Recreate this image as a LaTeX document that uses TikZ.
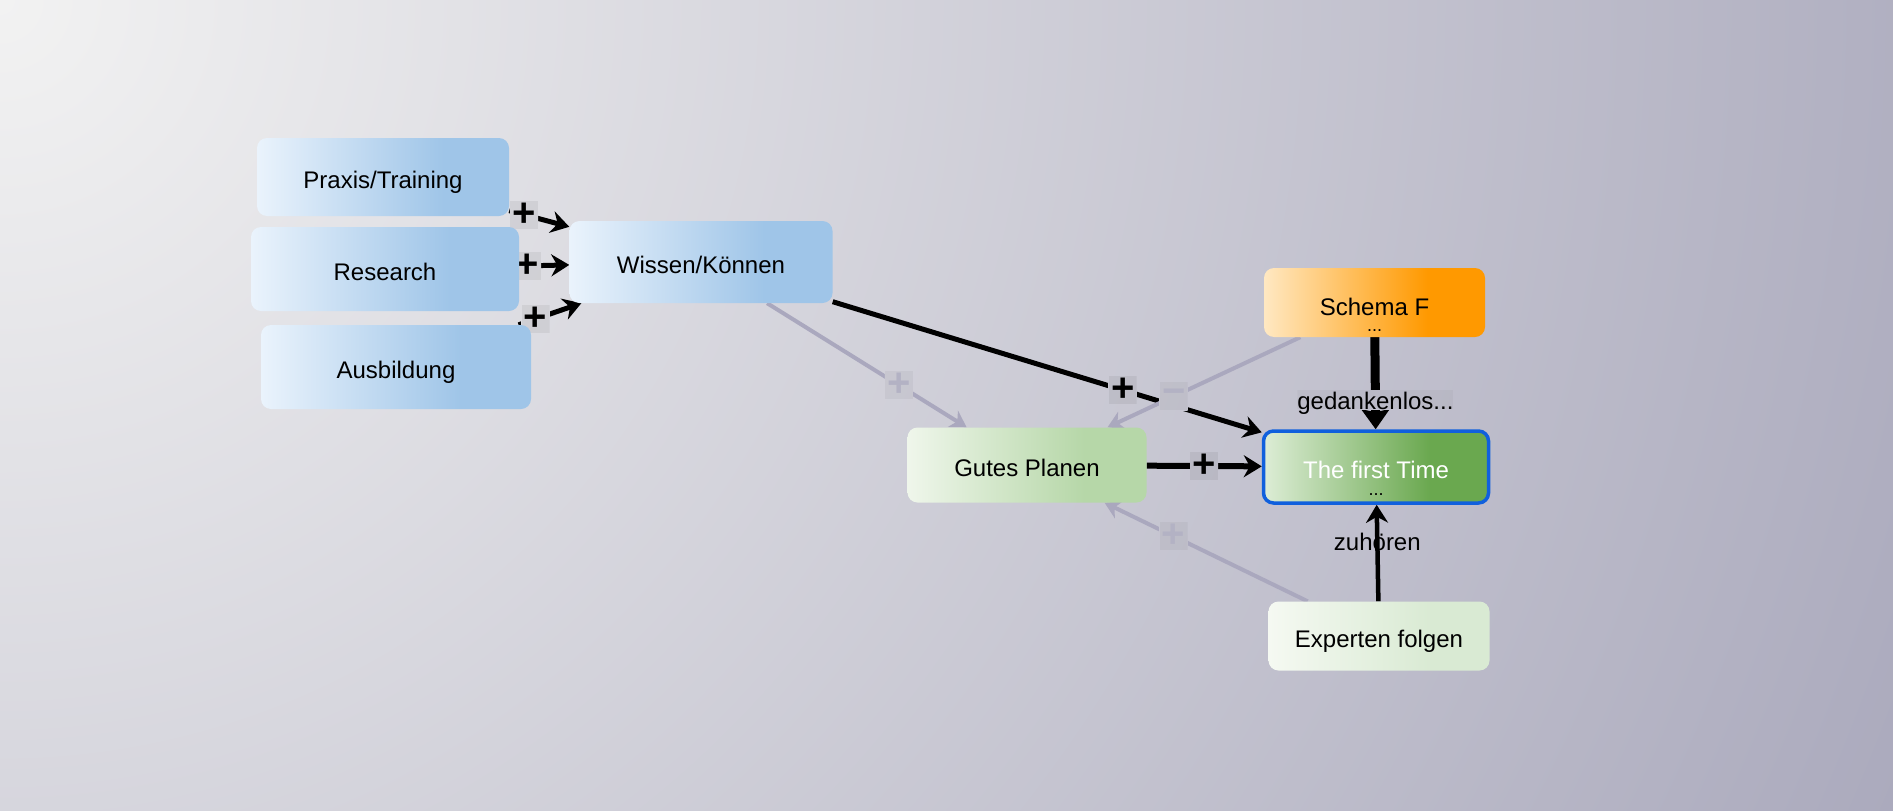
\documentclass[tikz,border=0pt]{standalone}
\usepackage{fontspec}
\setmainfont{Liberation Sans}
\usetikzlibrary{arrows.meta}
\definecolor{bgA}{HTML}{F2F2F2}
\definecolor{bgB}{HTML}{ABAABD}
\definecolor{blueL}{HTML}{EAF3FC}
\definecolor{blueD}{HTML}{9FC5E8}
\definecolor{gpL}{HTML}{EFF6EB}
\definecolor{gpD}{HTML}{B6D7A8}
\definecolor{ftL}{HTML}{DDEDD6}
\definecolor{ftD}{HTML}{6AA84F}
\definecolor{sfL}{HTML}{FFE8C2}
\definecolor{sfD}{HTML}{FF9900}
\definecolor{exL}{HTML}{F5F9F2}
\definecolor{exD}{HTML}{D9EAD3}
\definecolor{ftBorder}{HTML}{1060DD}
\definecolor{greyedge}{HTML}{AAA8BE}
\definecolor{greyplus}{HTML}{B3B2C4}
\pgfdeclarehorizontalshading{blueshade}{100bp}{color(0bp)=(blueL); color(25bp)=(blueL); color(62bp)=(blueD); color(100bp)=(blueD)}
\pgfdeclarehorizontalshading{gpshade}{100bp}{color(0bp)=(gpL); color(25bp)=(gpL); color(62bp)=(gpD); color(100bp)=(gpD)}
\pgfdeclarehorizontalshading{ftshade}{100bp}{color(0bp)=(ftL); color(25bp)=(ftL); color(62bp)=(ftD); color(100bp)=(ftD)}
\pgfdeclarehorizontalshading{sfshade}{100bp}{color(0bp)=(sfL); color(25bp)=(sfL); color(62bp)=(sfD); color(100bp)=(sfD)}
\pgfdeclarehorizontalshading{exshade}{100bp}{color(0bp)=(exL); color(25bp)=(exL); color(62bp)=(exD); color(100bp)=(exD)}
\pgfdeclarelayer{bglayer}
\pgfdeclarelayer{edgelayer}
\pgfsetlayers{bglayer,edgelayer,main}
\begin{document}
\begin{tikzpicture}[x=1pt,y=-1pt,
  font=\fontsize{24}{28}\selectfont,
  box/.style={rounded corners=10pt, inner sep=0pt, text=black, text height=23pt, text depth=0pt},
  dotsty/.style={font=\fontsize{18}{18}\selectfont, inner sep=0pt},
  ebk/.style={draw=black, line width=5pt, -{Stealth[length=18pt,width=22pt,inset=6pt]}},
  egr/.style={draw=greyedge, line width=4pt, -{Stealth[length=16pt,width=19pt,inset=5pt]}},
  bgpic/.style={path picture={\shade[inner color=bgA,outer color=bgB] (origin) circle (2060pt);
      \fill[black,opacity=#1] (path picture bounding box.south west) rectangle (path picture bounding box.north east);}},
  sgn/.style={minimum size=28pt, inner sep=0pt, bgpic=0.06, font=\fontsize{40}{40}\selectfont\bfseries, text=black},
  sgngr/.style={sgn, bgpic=0.04, text=greyplus},
  elab/.style={inner sep=1pt, font=\fontsize{24}{28}\selectfont, text=black}
]
\coordinate (origin) at (0,0);
\useasboundingbox (0,0) rectangle (1893,811);
\begin{pgfonlayer}{bglayer}
\begin{scope}
  \clip (0,0) rectangle (1893,811);
  \shade[inner color=bgA,outer color=bgB] (origin) circle (2060pt);
\end{scope}
\end{pgfonlayer}

% nodes
\node[box, shading=blueshade, minimum width=252pt, minimum height=78pt] (praxis) at (383,177) {Praxis/Training};
\node[box, shading=blueshade, minimum width=268pt, minimum height=84pt] (research) at (385,269) {Research};
\node[box, shading=blueshade, minimum width=270pt, minimum height=84pt] (ausbildung) at (396,367) {Ausbildung};
\node[box, shading=blueshade, minimum width=263pt, minimum height=82pt] (wissen) at (701,262) {Wissen/Können};
\node[box, shading=sfshade, minimum width=221pt, minimum height=69pt] (schema) at (1374.5,302.5) {};
\node (schematxt) at ([yshift=-4pt]schema.center) {Schema F};
\node[dotsty] (schemadots) at ([yshift=-28pt]schema.center) {...};
\node[box, shading=gpshade, minimum width=239pt, minimum height=75pt] (gutes) at (1027,465) {Gutes Planen};
\node[box, shading=ftshade, draw=ftBorder, line width=3.5pt, minimum width=225pt, minimum height=72pt] (first) at (1376,467) {};
\node[text=white] (firsttxt) at ([yshift=-3pt]first.center) {The first Time};
\node[dotsty] (firstdots) at ([yshift=-28pt]first.center) {...};
\node[box, shading=exshade, minimum width=221pt, minimum height=69pt] (experten) at (1379,636) {Experten folgen};

% edges
\begin{pgfonlayer}{edgelayer}
\draw[ebk] (praxis) -- node[sgn, pos=0.25] {+} (wissen);
\draw[ebk] (research) -- node[sgn, pos=0.16] {+} (wissen);
\draw[ebk] (ausbildung) -- node[sgn, pos=0.27] {+} (wissen);
\draw[ebk] (wissen) -- node[sgn, pos=0.676] {+} (first);
\draw[egr] (wissen) -- node[sgngr, pos=0.66] {+} (gutes);
\draw[egr] (schema) -- node[sgngr, pos=0.657] {−} (gutes);
\draw[egr] (experten) -- node[sgngr, pos=0.66] {+} (gutes);
\draw[ebk, line width=6pt] (gutes) -- node[sgn, pos=0.5] {+} (first);
\draw[draw=black, line width=9pt, -{Stealth[length=20pt,width=28pt,inset=3pt]}] (schema) -- node[elab, bgpic=0.03, inner sep=0pt, text height=19pt, text depth=0pt, pos=0.68] {gedankenlos...} (first);
\draw[ebk, line width=4.5pt] (experten) -- node[elab, pos=0.62] {zuhören} (first);
\end{pgfonlayer}
\end{tikzpicture}
\end{document}
